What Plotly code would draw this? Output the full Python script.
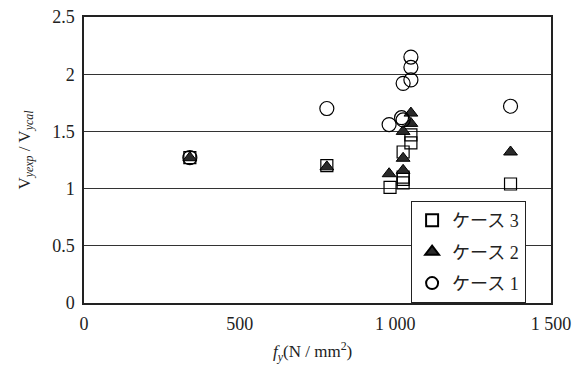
import plotly.graph_objects as go

# ケース1 (circles)
case1_fy = [340, 780, 980, 1020, 1025, 1025, 1050, 1050, 1050, 1370]
case1_v = [1.27, 1.70, 1.56, 1.62, 1.60, 1.92, 1.95, 2.06, 2.15, 1.72]
# ケース2 (triangles)
case2_fy = [340, 780, 980, 1025, 1025, 1025, 1050, 1050, 1370]
case2_v = [1.27, 1.19, 1.13, 1.16, 1.265, 1.50, 1.57, 1.66, 1.32]
# ケース3 (squares)
case3_fy = [340, 780, 983, 1025, 1025, 1025, 1025, 1050, 1050, 1370]
case3_v = [1.27, 1.20, 1.01, 1.05, 1.08, 1.10, 1.32, 1.40, 1.47, 1.04]

x_tickvals = [0, 500, 1000, 1500]
x_ticktext = ["0", "500", "1 000", "1 500"]
y_tickvals = [0, 0.5, 1, 1.5, 2, 2.5]
y_ticktext = ["0", "0.5", "1", "1.5", "2", "2.5"]

FONT = "Liberation Serif, DejaVu Serif, Noto Sans CJK JP"

fig = go.Figure()
fig.add_trace(go.Scatter(
    x=case3_fy, y=case3_v, mode="markers", name="ケース 3", legendgroup="c3",
    marker=dict(symbol="square-open", size=12, color="black", line=dict(width=1.2, color="black")),
))
fig.add_trace(go.Scatter(
    x=case2_fy, y=case2_v, mode="markers", name="ケース 2", legendgroup="c2",
    marker=dict(symbol="triangle-up", size=12, color="#2a2a2a", line=dict(width=1, color="black")),
))
fig.add_trace(go.Scatter(
    x=case1_fy, y=case1_v, mode="markers", name="ケース 1", legendgroup="c1",
    marker=dict(symbol="circle-open", size=14, color="black", line=dict(width=1.2, color="black")),
))

fig.update_layout(
    width=583, height=368,
    margin=dict(l=84, r=32, t=17, b=65, autoexpand=False),
    paper_bgcolor="white", plot_bgcolor="white",
    font=dict(family=FONT, size=18, color="#222"),
    showlegend=True,
    legend=dict(
        x=0.70, y=0.357, xanchor="left", yanchor="top",
        traceorder="grouped",
        bgcolor="white", bordercolor="#222", borderwidth=1.2,
        font=dict(family=FONT, size=18, color="#222"),
        itemsizing="constant", tracegroupgap=5,
    ),
    xaxis=dict(
        range=[0, 1500], tickvals=x_tickvals, ticktext=x_ticktext,
        showgrid=False, zeroline=False, automargin=False,
        showline=True, linecolor="#222", linewidth=1.5, mirror=True,
        ticks="", ticklabelstandoff=4,
        tickfont=dict(family=FONT, size=18),
    ),
    yaxis=dict(
        range=[0, 2.5], tickvals=y_tickvals, ticktext=y_ticktext,
        showgrid=True, gridcolor="#333", gridwidth=1, zeroline=False, automargin=False,
        showline=True, linecolor="#222", linewidth=1.5, mirror=True,
        ticks="", ticklabelstandoff=4,
        tickfont=dict(family=FONT, size=18),
    ),
    annotations=[
        dict(text="<i>f</i><sub><i>y</i></sub>(N / mm<sup>2</sup>)", xref="paper", yref="paper",
             x=0.49, y=-0.171, xanchor="center", yanchor="middle", showarrow=False,
             font=dict(family=FONT, size=17, color="#222")),
        dict(text="V<sub><i>yexp</i></sub> / V<sub><i>ycal</i></sub>", xref="paper", yref="paper",
             x=-0.125, y=0.535, xanchor="center", yanchor="middle", showarrow=False, textangle=-90,
             font=dict(family=FONT, size=17, color="#222")),
    ],
)

fig.write_html("out.html", config={"displayModeBar": False},
               post_script="document.body.style.margin='0';")
